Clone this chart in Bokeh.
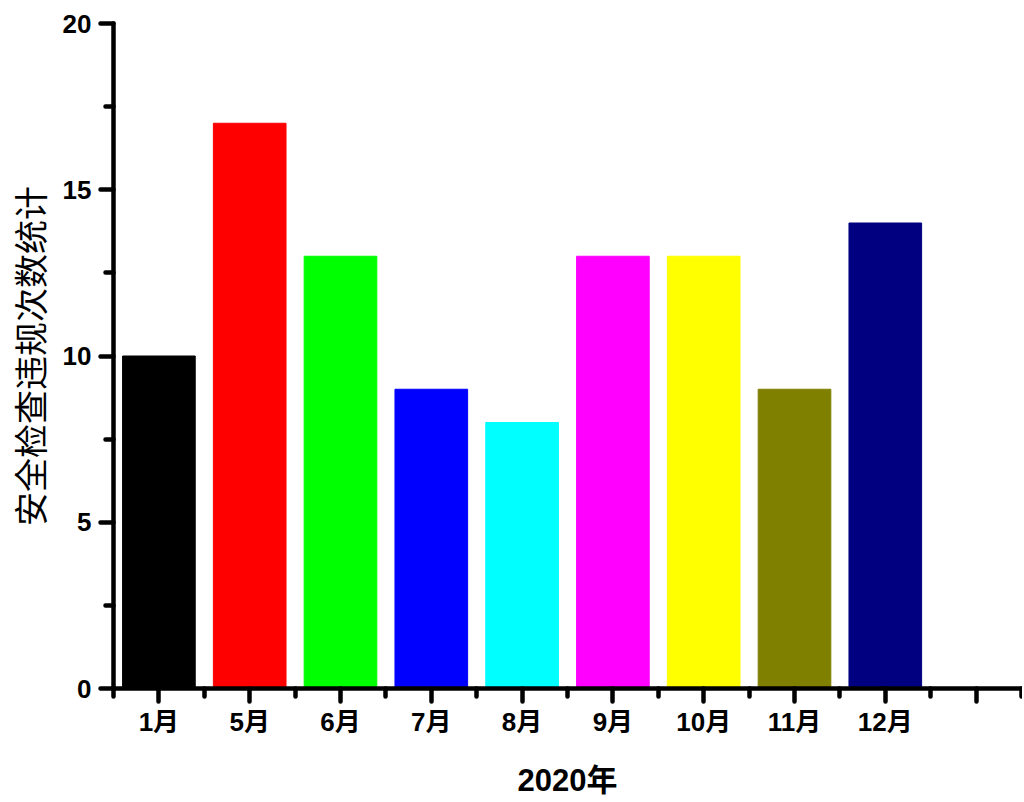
from bokeh.plotting import figure
from bokeh.models import Range1d, FixedTicker, ColumnDataSource
from bokeh.embed import file_html
from bokeh.resources import INLINE

# data
months = ["1月", "5月", "6月", "7月", "8月", "9月", "10月", "11月", "12月"]
counts = [10, 17, 13, 9, 8, 13, 13, 9, 14]
colors = ["#000000", "#FF0000", "#00FF00", "#0000FF", "#00FFFF",
          "#FF00FF", "#FFFF00", "#808000", "#000080"]
y_ticks = [0, 5, 10, 15, 20]
x_title = "2020年"
y_title = "安全检查违规次数统计"

n_slots = len(months) + 1
xpos = list(range(1, len(months) + 1))

src = ColumnDataSource(dict(x=xpos, top=counts, color=colors, month=months))

p = figure(width=1022, height=800, output_backend="svg", toolbar_location=None,
           x_range=Range1d(0.5, n_slots + 0.5), y_range=Range1d(0, 20),
           min_border_left=113, min_border_right=1, min_border_top=23,
           min_border_bottom=111)

p.vbar(x="x", top="top", width=0.8, color="color", source=src)

p.grid.visible = False
p.outline_line_color = None
p.background_fill_color = "white"
p.border_fill_color = "white"

tick_font = "Liberation Sans, 'Noto Sans CJK SC'"

# x axis
xa = p.xaxis[0]
xa.ticker = FixedTicker(ticks=list(range(1, n_slots + 1)),
                        minor_ticks=[i + 0.5 for i in range(0, n_slots + 1)])
overrides = {i + 1: m for i, m in enumerate(months)}
overrides[n_slots] = ""
xa.major_label_overrides = overrides
xa.major_label_text_font = tick_font
xa.major_label_text_font_style = "bold"
xa.major_label_text_font_size = "26px"
xa.major_label_standoff = 5
xa.axis_label = x_title
xa.axis_label_text_font = tick_font
xa.axis_label_text_font_style = "bold"
xa.axis_label_text_font_size = "31px"
xa.axis_label_standoff = 23

# y axis
ya = p.yaxis[0]
ya.ticker = FixedTicker(ticks=y_ticks, minor_ticks=[2.5, 7.5, 12.5, 17.5])
ya.major_label_text_font = "Liberation Sans"
ya.major_label_text_font_style = "bold"
ya.major_label_text_font_size = "26px"
ya.major_label_standoff = 9
ya.axis_label = y_title
ya.axis_label_text_font = "Noto Sans CJK SC"
ya.axis_label_text_font_style = "normal"
ya.axis_label_text_font_size = "34px"
ya.axis_label_standoff = 6

for ax in (xa, ya):
    ax.axis_line_width = 4.5
    ax.axis_line_color = "black"
    ax.major_tick_line_width = 4.5
    ax.minor_tick_line_width = 4.5
    ax.major_tick_line_color = "black"
    ax.minor_tick_line_color = "black"
    ax.major_tick_out = 13
    ax.major_tick_in = 0
    ax.minor_tick_out = 8
    ax.minor_tick_in = 0
    ax.major_tick_line_cap = "round"
    ax.minor_tick_line_cap = "round"
    ax.axis_line_cap = "round"
    ax.major_label_text_color = "black"
    ax.axis_label_text_color = "black"

open("out.html", "w").write(file_html(p, INLINE))
